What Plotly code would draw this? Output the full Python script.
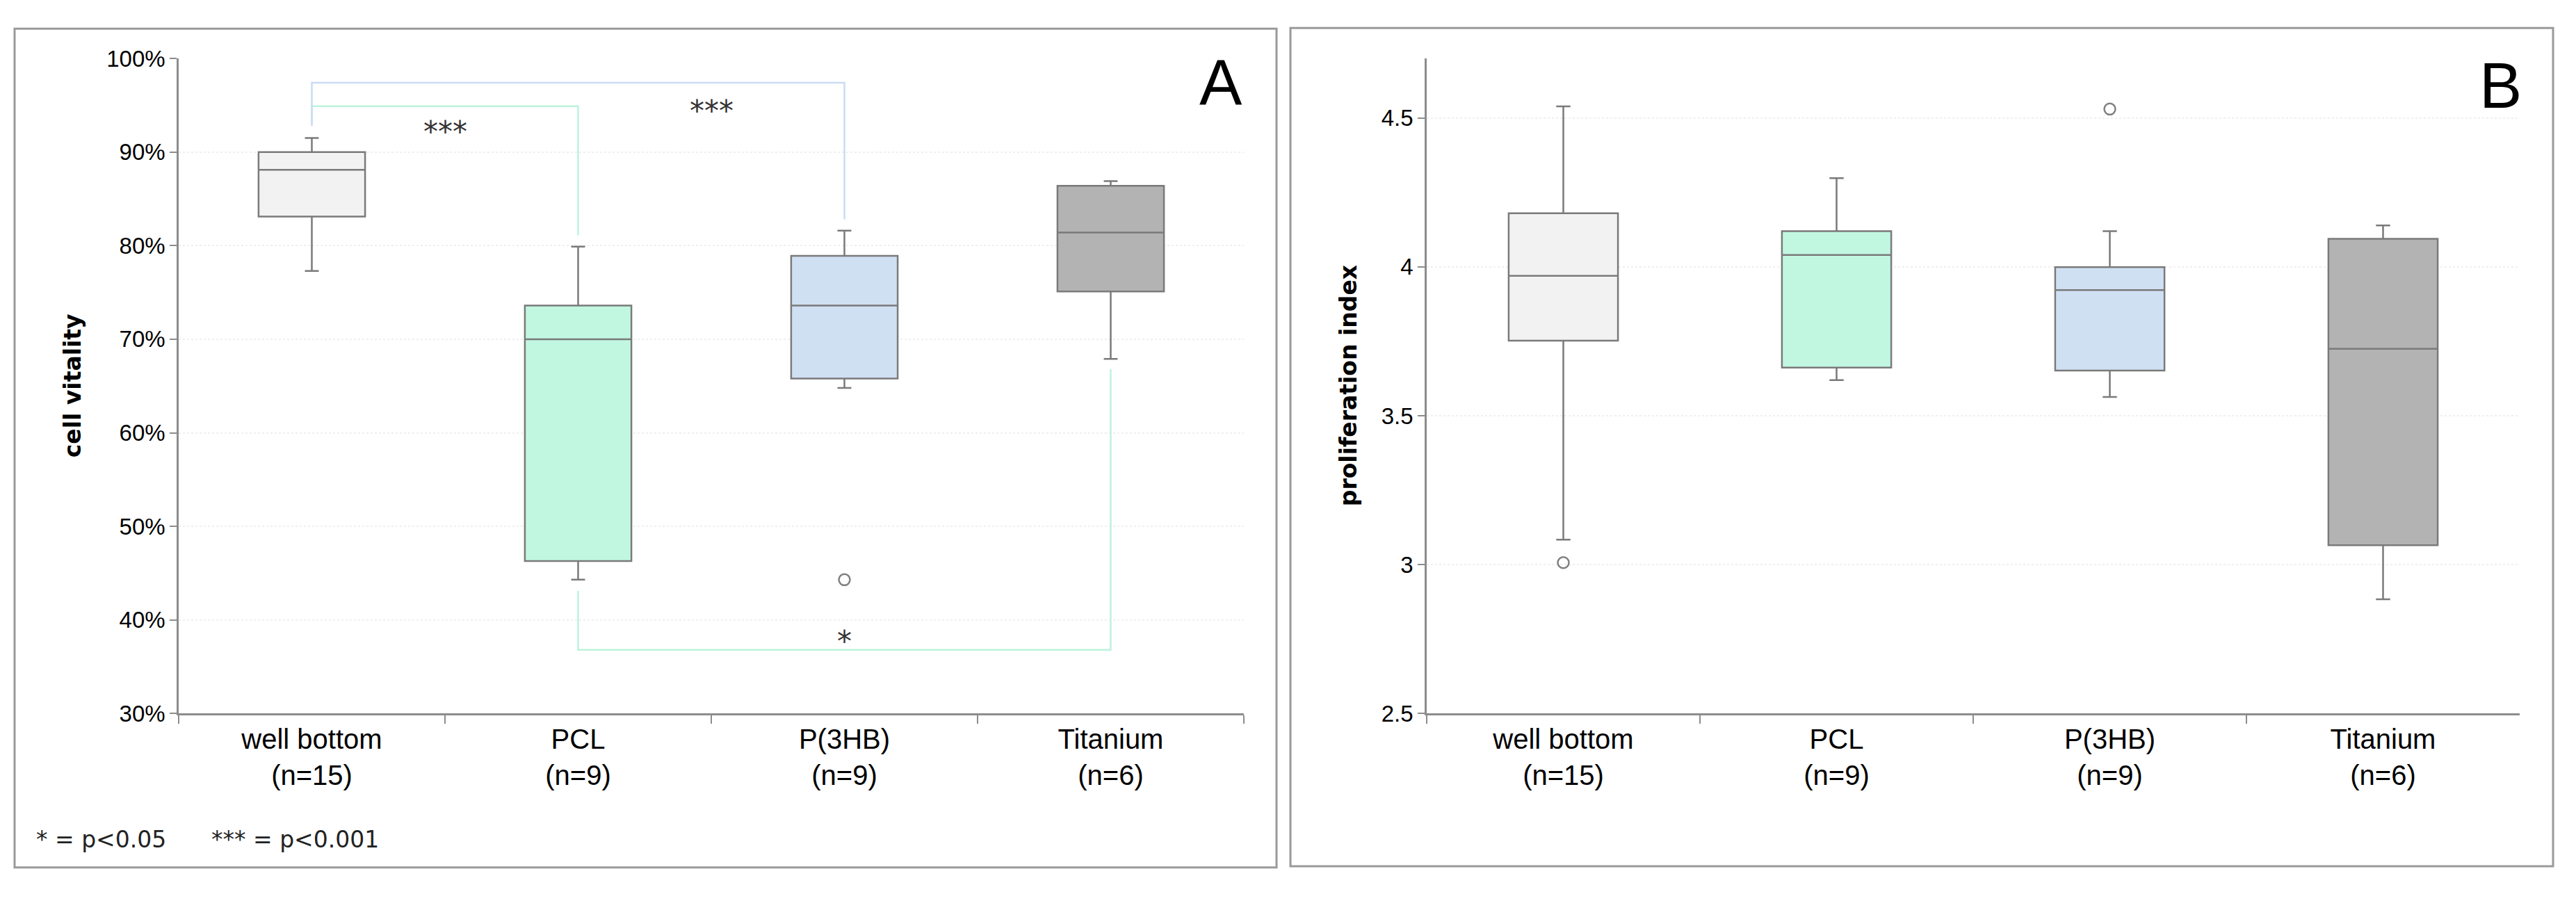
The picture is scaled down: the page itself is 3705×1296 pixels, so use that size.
import plotly.graph_objects as go

# groups on the x axis
categories = ["well bottom", "PCL", "P(3HB)", "Titanium"]
n_values = [15, 9, 9, 6]
tick_labels = [f"{c}<br>(n={n})" for c, n in zip(categories, n_values)]

# A: cell vitality (fractions)
vit_lower = [0.773, 0.443, 0.648, 0.679]
vit_q1 = [0.831, 0.463, 0.658, 0.751]
vit_median = [0.881, 0.700, 0.736, 0.814]
vit_q3 = [0.900, 0.736, 0.789, 0.864]
vit_upper = [0.915, 0.799, 0.816, 0.869]
vit_outlier_cat = ["P(3HB)"]
vit_outlier_val = [0.443]

# B: proliferation index
pro_lower = [3.084, 3.620, 3.563, 2.884]
pro_q1 = [3.752, 3.662, 3.652, 3.065]
pro_median = [3.970, 4.040, 3.922, 3.725]
pro_q3 = [4.180, 4.120, 3.999, 4.094]
pro_upper = [4.539, 4.298, 4.120, 4.139]
pro_outlier_cat = ["well bottom", "P(3HB)"]
pro_outlier_val = [3.007, 4.530]

# significance brackets in A: (left group, right group, level, left end, right end)
brackets = [
    ("well bottom", "PCL", 0.949, 0.928, 0.811),
    ("well bottom", "P(3HB)", 0.974, 0.928, 0.828),
    ("PCL", "Titanium", 0.368, 0.431, 0.668),
]
bracket_colors = ["#bdf3dc", "#cadbf5", "#bdf3dc"]
star_labels = ["***", "***", "*"]
star_x = [0.5, 1.5, 2.0]
star_y = [0.922, 0.944, 0.377]

fills = ["#f2f2f2", "#c1f7e0", "#d0e0f3", "#b3b3b3"]
edge = "#7a7a7a"

W, H = 3705, 1296

fig = go.Figure()

# boxes
for i, c in enumerate(categories):
    fig.add_trace(go.Box(
        x=[c], q1=[vit_q1[i]], median=[vit_median[i]], q3=[vit_q3[i]],
        lowerfence=[vit_lower[i]], upperfence=[vit_upper[i]],
        fillcolor=fills[i], line=dict(color=edge, width=2.5),
        width=0.4, whiskerwidth=0.13, boxpoints=False,
        xaxis="x", yaxis="y", showlegend=False, hoverinfo="skip",
    ))
    fig.add_trace(go.Box(
        x=[c], q1=[pro_q1[i]], median=[pro_median[i]], q3=[pro_q3[i]],
        lowerfence=[pro_lower[i]], upperfence=[pro_upper[i]],
        fillcolor=fills[i], line=dict(color=edge, width=2.5),
        width=0.4, whiskerwidth=0.13, boxpoints=False,
        xaxis="x2", yaxis="y2", showlegend=False, hoverinfo="skip",
    ))

# outliers
fig.add_trace(go.Scatter(
    x=vit_outlier_cat, y=vit_outlier_val, mode="markers",
    marker=dict(symbol="circle-open", size=16, color="#808080", line=dict(width=2.5)),
    xaxis="x", yaxis="y", showlegend=False, hoverinfo="skip",
))
fig.add_trace(go.Scatter(
    x=pro_outlier_cat, y=pro_outlier_val, mode="markers",
    marker=dict(symbol="circle-open", size=16, color="#808080", line=dict(width=2.5)),
    xaxis="x2", yaxis="y2", showlegend=False, hoverinfo="skip",
))

# brackets
for (a, b, lvl, ya, yb), col in zip(brackets, bracket_colors):
    fig.add_trace(go.Scatter(
        x=[a, a, b, b], y=[ya, lvl, lvl, yb], mode="lines",
        line=dict(color=col, width=2.5),
        xaxis="x", yaxis="y", showlegend=False, hoverinfo="skip",
    ))

for s, sx, sy in zip(star_labels, star_x, star_y):
    fig.add_annotation(x=sx, y=sy, xref="x", yref="y", text=s, showarrow=False,
                       xanchor="center", yanchor="middle",
                       font=dict(family="DejaVu Sans", size=42, color="#333333"))

xaxis_style = dict(
    type="category", categoryorder="array", categoryarray=categories,
    tickvals=categories, ticktext=tick_labels, range=[-0.5, 3.5],
    showline=True, linecolor="#8c8c8c", linewidth=2.5,
    ticks="outside", tickson="boundaries", ticklen=12, tickcolor="#8c8c8c", tickwidth=2,
    tickfont=dict(family="Liberation Sans, Arial", size=40, color="black"),
    showgrid=False, zeroline=False,
)
yaxis_style = dict(
    showline=True, linecolor="#8c8c8c", linewidth=2.5,
    ticks="outside", ticklen=10, tickcolor="#8c8c8c", tickwidth=2,
    tickfont=dict(family="Liberation Sans, Arial", size=33, color="black"),
    showgrid=True, gridcolor="#efefef", griddash="dot", gridwidth=2,
    zeroline=False,
)

ydom = [1 - 1038 / H, 1 - 68 / H]

fig.update_layout(
    width=W, height=H,
    margin=dict(l=0, r=0, t=0, b=0),
    paper_bgcolor="white", plot_bgcolor="white",
    xaxis=dict(domain=[257 / W, 1789 / W], anchor="y", **xaxis_style),
    yaxis=dict(domain=ydom, anchor="x", range=[0.3, 1.0], dtick=0.1,
               tickformat=".0%", **yaxis_style),
    xaxis2=dict(domain=[2052 / W, 3624 / W], anchor="y2", **xaxis_style),
    yaxis2=dict(domain=ydom, anchor="x2", range=[2.5, 4.7],
                tickvals=[2.5, 3, 3.5, 4, 4.5], ticktext=["2.5", "3", "3.5", "4", "4.5"],
                **yaxis_style),
)

# panel frames
for x0, x1, y0, y1 in [(21, 1836, 24, 1266), (1856, 3672, 23, 1264)]:
    fig.add_shape(type="rect", xref="paper", yref="paper",
                  x0=x0 / W, x1=x1 / W, y0=1 - y1 / H, y1=1 - y0 / H,
                  line=dict(color="#9a9a9a", width=3), fillcolor="rgba(0,0,0,0)")

# axis titles
fig.add_annotation(x=104 / W, y=1 - 553 / H, xref="paper", yref="paper",
                   text="<b>cell vitality</b>", textangle=-90, showarrow=False,
                   xanchor="center", yanchor="middle",
                   font=dict(family="DejaVu Sans", size=33, color="black"))
fig.add_annotation(x=1939 / W, y=1 - 553 / H, xref="paper", yref="paper",
                   text="<b>proliferation index</b>", textangle=-90, showarrow=False,
                   xanchor="center", yanchor="middle",
                   font=dict(family="DejaVu Sans", size=33, color="black"))

# panel letters
fig.add_annotation(x=1756 / W, y=1 - 104 / H, xref="paper", yref="paper",
                   text="A", showarrow=False, xanchor="center", yanchor="middle",
                   font=dict(family="Liberation Sans, Arial", size=92, color="black"))
fig.add_annotation(x=3596 / W, y=1 - 108 / H, xref="paper", yref="paper",
                   text="B", showarrow=False, xanchor="center", yanchor="middle",
                   font=dict(family="Liberation Sans, Arial", size=92, color="black"))

# footnote
fig.add_annotation(x=50 / W, y=1 - 1224 / H, xref="paper", yref="paper",
                   text="* = p<0.05", showarrow=False, xanchor="left", yanchor="middle",
                   font=dict(family="DejaVu Sans", size=33, color="#222222"))
fig.add_annotation(x=302 / W, y=1 - 1224 / H, xref="paper", yref="paper",
                   text="*** = p<0.001", showarrow=False, xanchor="left", yanchor="middle",
                   font=dict(family="DejaVu Sans", size=33, color="#222222"))

fig.write_html("out.html", config={"displayModeBar": False},
               post_script="document.body.style.margin='0';")
